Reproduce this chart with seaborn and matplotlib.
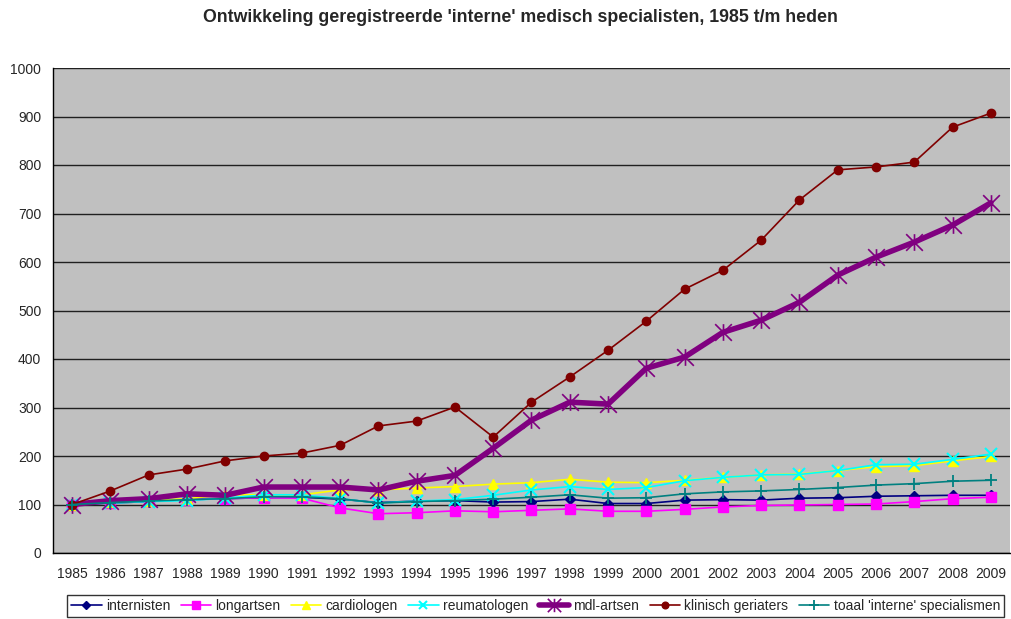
#!/usr/bin/env python3

import pandas
import seaborn as sns
import matplotlib.pyplot as plt
from matplotlib.path import Path

years = list(range(1985, 2010))

internisten = [100, 103, 106, 110, 112, 114, 115, 111, 104, 107, 108, 105, 106,
               111, 102, 102, 109, 110, 109, 113, 114, 117, 118, 119, 119]
longartsen = [100, 104, 107, 110, 112, 114, 113, 93, 81, 83, 87, 85, 88,
              91, 86, 86, 90, 95, 98, 99, 100, 101, 106, 112, 115]
cardiologen = [100, 105, 108, 112, 120, 120, 120, 130, 130, 134, 137, 142, 145,
               152, 146, 145, 150, 156, 161, 163, 170, 178, 180, 190, 199]
reumatologen = [100, 103, 106, 108, 113, 120, 120, 112, 103, 107, 110, 119, 130,
                137, 131, 135, 149, 156, 161, 162, 170, 182, 183, 193, 204]
mdl_artsen = [100, 108, 112, 122, 119, 136, 136, 136, 130, 148, 160, 216, 274,
              311, 307, 381, 404, 455, 480, 517, 573, 610, 641, 676, 722]
klinisch_geriaters = [100, 128, 161, 173, 190, 200, 206, 222, 262, 272, 301, 239, 311,
                      363, 418, 478, 544, 583, 645, 728, 790, 796, 806, 878, 907]
toaal = [100, 104, 107, 110, 112, 116, 116, 112, 103, 106, 108, 111, 115,
         120, 113, 114, 122, 126, 128, 131, 135, 140, 143, 148, 150]

series = [
    ("internisten", internisten),
    ("longartsen", longartsen),
    ("cardiologen", cardiologen),
    ("reumatologen", reumatologen),
    ("mdl-artsen", mdl_artsen),
    ("klinisch geriaters", klinisch_geriaters),
    ("toaal 'interne' specialismen", toaal),
]

# Excel style star: an X with a vertical stroke through it
star = Path(
    [(-1, -1), (1, 1), (-1, 1), (1, -1), (0, -1), (0, 1)],
    [Path.MOVETO, Path.LINETO, Path.MOVETO, Path.LINETO, Path.MOVETO, Path.LINETO],
)

# line look per series, roughly the old Excel defaults
styles = {
    "internisten": dict(color="#000080", marker="D", ms=5, lw=1.2, mew=1),
    "longartsen": dict(color="#FF00FF", marker="s", ms=7, lw=1.2, mew=1),
    "cardiologen": dict(color="#FFFF00", marker="^", ms=7, lw=1.2, mew=1),
    "reumatologen": dict(color="#00FFFF", marker="x", ms=8, lw=1.2, mew=1.5),
    "mdl-artsen": dict(color="#800080", marker=star, ms=12, lw=4, mew=1.2),
    "klinisch geriaters": dict(color="#800000", marker="o", ms=6, lw=1.2, mew=1),
    "toaal 'interne' specialismen": dict(color="#008080", marker="+", ms=9, lw=1.2, mew=1.3),
}

sns.set_style("white")
plt.rcParams["font.family"] = ["Liberation Sans", "DejaVu Sans"]

rows = []
for name, vals in series:
    for i, v in enumerate(vals):
        rows.append({"idx": i, "jaar": years[i], "waarde": v, "groep": name})
df = pandas.DataFrame(rows)

fig = plt.figure(figsize=(10.12, 6.19), dpi=100)
ax = fig.add_axes([53 / 1012, 1 - 553 / 619, 957 / 1012, 485 / 619])
ax.set_facecolor("#C0C0C0")

for name, _ in series:
    st = styles[name]
    sub = df[df["groep"] == name]
    sns.lineplot(
        data=sub, x="idx", y="waarde", ax=ax, label=name,
        color=st["color"], linewidth=st["lw"], marker=st["marker"],
        markersize=st["ms"], markeredgecolor=st["color"], markeredgewidth=st["mew"],
        markerfacecolor=st["color"], zorder=3,
    )

ax.set_xlim(-0.5, len(years) - 0.5)
ax.set_ylim(0, 1000)
ax.set_yticks(range(0, 1001, 100))
ax.set_xticks(range(len(years)))
ax.set_xticklabels([str(y) for y in years], fontsize=10)
ax.set_xticks([i - 0.5 for i in range(len(years) + 1)], minor=True)
ax.tick_params(axis="x", which="major", length=0, pad=10)
ax.tick_params(axis="x", which="minor", length=5, width=1, color="black", direction="out")
ax.tick_params(axis="y", length=5, width=1, color="black", direction="out", labelsize=10)
ax.set_xlabel("")
ax.set_ylabel("")
ax.yaxis.grid(True, color="#202020", linewidth=1)
ax.set_axisbelow(True)

for side in ("top", "right"):
    ax.spines[side].set_visible(False)
for side in ("left", "bottom"):
    ax.spines[side].set_color("black")
    ax.spines[side].set_linewidth(1)

fig.text(520 / 1012, 1 - 18 / 619,
         "Ontwikkeling geregistreerde 'interne' medisch specialisten, 1985 t/m heden",
         fontsize=12.8, fontweight="bold", ha="center", va="center")

leg = ax.legend(loc="center", bbox_to_anchor=(535.5 / 1012, 1 - 606 / 619),
                bbox_transform=fig.transFigure, ncol=7, fontsize=10, frameon=True,
                fancybox=False, handlelength=2.2, handletextpad=0.3, columnspacing=0.75,
                borderpad=0.3, markerscale=0.8)
leg.get_frame().set_edgecolor("black")
leg.get_frame().set_linewidth(1)

fig.savefig("out.png", dpi=100, facecolor="white")
